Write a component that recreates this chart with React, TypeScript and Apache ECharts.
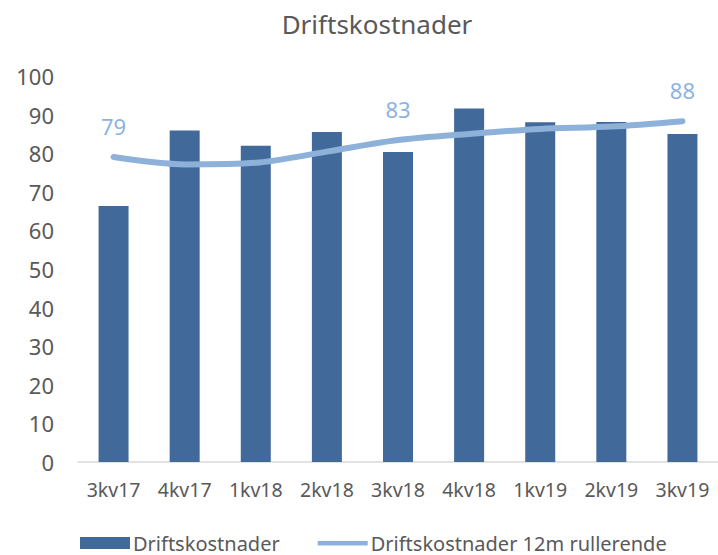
import React, { useEffect, useRef } from "react";
import * as echarts from "echarts";

const categories = ["3kv17", "4kv17", "1kv18", "2kv18", "3kv18", "4kv18", "1kv19", "2kv19", "3kv19"];
const costs = [66.3, 85.9, 81.9, 85.5, 80.3, 91.6, 88.0, 88.1, 85.0];
const rolling = [79.0, 77.1, 77.5, 80.4, 83.4, 85.0, 86.3, 86.9, 88.3];
const labeledIdx = [0, 4, 8];
const titleText = "Driftskostnader";
const barName = "Driftskostnader";
const lineName = "Driftskostnader 12m rullerende";

const FONT = "'Noto Sans', sans-serif";
const TEXT = "#595959";
const BAR = "#41699A";
const LINE = "#8EB1DA";
const LABEL = "#8DB3E2";

export default function App() {
  const ref = useRef<HTMLDivElement>(null);
  useEffect(() => {
    document.body.style.margin = "0";
    const chart = echarts.init(ref.current!, null, { renderer: "svg" });
    chart.setOption({
      animation: false,
      backgroundColor: "#ffffff",
      textStyle: { fontFamily: FONT },
      title: {
        text: titleText,
        left: 372,
        top: 6,
        textAlign: "center",
        textStyle: { fontFamily: FONT, fontSize: 26, fontWeight: "normal", color: TEXT },
      },
      legend: {
        left: 75,
        top: 528,
        itemGap: 38,
        itemWidth: 50,
        itemHeight: 12,
        textStyle: { fontFamily: FONT, fontSize: 20, color: TEXT, padding: [0, 0, 0, -2] },
        data: [
          { name: barName, icon: "rect", itemStyle: { color: BAR, opacity: 1 } },
          {
            name: lineName,
            icon: "path://M0,0 L0.01,0 L0.01,0.01 Z M0,4 L50,4 L50,8.5 L0,8.5 Z M0,12 L0.01,12 L0.01,11.99 Z",
            itemStyle: { color: LINE, opacity: 1, borderWidth: 0 },
            lineStyle: { opacity: 0 },
          },
        ],
      },
      grid: { left: 78, right: 0, top: 76, bottom: 93 },
      xAxis: {
        type: "category",
        data: categories,
        axisLine: { lineStyle: { color: "#D9D9D9", width: 1.5 } },
        axisTick: { show: false },
        axisLabel: { color: TEXT, fontSize: 19.5, fontFamily: FONT, margin: 17, interval: 0 },
      },
      yAxis: {
        type: "value",
        min: 0,
        max: 100,
        interval: 10,
        splitLine: { show: false },
        axisLine: { show: false },
        axisTick: { show: false },
        axisLabel: { color: TEXT, fontSize: 22, fontFamily: FONT, margin: 24 },
      },
      series: [
        {
          name: barName,
          type: "bar",
          data: costs,
          barWidth: 30,
          itemStyle: { color: BAR },
        },
        {
          name: lineName,
          type: "line",
          smooth: 0.3,
          symbol: "circle",
          symbolSize: 2,
          showSymbol: true,
          lineStyle: { color: LINE, width: 6, cap: "round" },
          itemStyle: { color: LINE },
          label: {
            show: false,
            position: "top",
            distance: 19,
            formatter: (p: any) => String(Math.round(p.value)),
            color: LABEL,
            fontSize: 22,
            fontFamily: FONT,
          },
          data: rolling.map((v, i) => ({
            value: v,
            label: { show: labeledIdx.includes(i) },
          })),
        },
      ],
    });
    return () => chart.dispose();
  }, []);
  return <div ref={ref} style={{ width: 718, height: 555 }} />;
}
